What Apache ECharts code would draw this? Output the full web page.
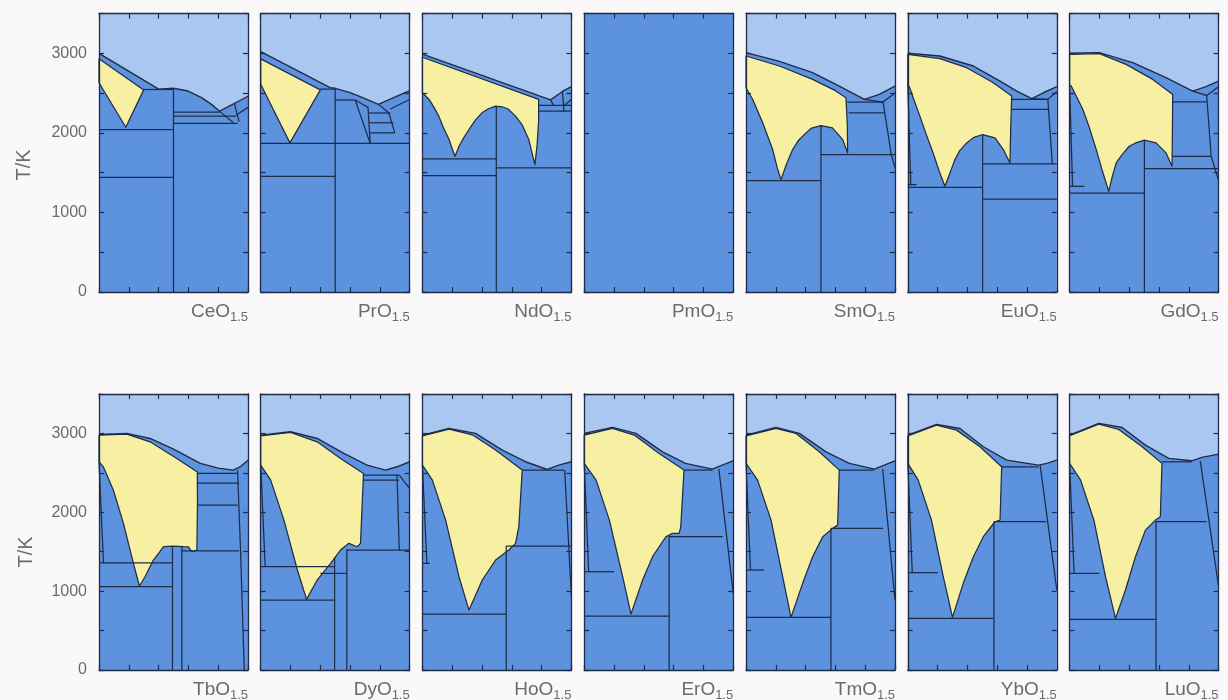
<!DOCTYPE html>
<html>
<head>
<meta charset="utf-8">
<script src="https://cdn.jsdelivr.net/npm/echarts@6/dist/echarts.min.js"></script>
<style>
  html, body { margin: 0; padding: 0; background: #fbf8f9; }
  #chart { width: 1228px; height: 700px; }
</style>
</head>
<body>
<div id="chart"></div>
<script>
// ZrO2 – LnO1.5 phase diagrams: composition (mole fraction LnO1.5) vs temperature (K)
const compounds = ['CeO', 'PrO', 'NdO', 'PmO', 'SmO', 'EuO', 'GdO',
                   'TbO', 'DyO', 'HoO', 'ErO', 'TmO', 'YbO', 'LuO'];
const formulaSubscript = '1.5';
const tempTicks = [0, 1000, 2000, 3000];
const tempMax = 3500;
const tempStep = 500;
const compStep = 0.2;

// --- CeO1.5 ---
const ceLiquidus = [[0,3000],[0.40,2550],[0.5,2560],[0.598,2526],[0.688,2442],[0.755,2358],[0.81,2272],[0.90,2360],[1,2460]];
const ceFluorite = [[0,2930],[0.30,2540],[0.18,2070],[0,2630]];
const ceLines = [
  [[0.30,2545],[0.5,2545]], [[0.5,0],[0.5,2560]],
  [[0,2042],[0.5,2042]], [[0,1441],[0.5,1441]],
  [[0.5,2261],[0.81,2261]], [[0.5,2211],[0.92,2211]], [[0.5,2118],[0.93,2118]],
  [[0.81,2270],[0.90,2130]], [[0.91,2360],[0.94,2140]], [[0.92,2220],[1,2320]]
];
// --- PrO1.5 ---
const prLiquidus = [[0,3020],[0.466,2568],[0.5,2560],[0.60,2505],[0.70,2430],[0.79,2358],[0.90,2450],[1,2530]];
const prFluorite = [[0,2930],[0.40,2540],[0.196,1874],[0,2610]];
const prLines = [
  [[0.40,2550],[0.5,2550]], [[0.5,0],[0.5,2560]],
  [[0,1868],[1,1868]], [[0,1454],[0.5,1454]],
  [[0.5,2413],[0.634,2413]], [[0.634,2413],[0.735,1868]], [[0.634,2413],[0.72,2320],[0.735,1868]],
  [[0.72,2250],[0.87,2250]], [[0.73,2127],[0.89,2127]], [[0.73,2000],[0.90,2000]],
  [[0.79,2358],[0.86,2250],[0.90,2000]], [[0.87,2300],[1,2420]]
];
// --- NdO1.5 ---
const ndLiquidus = [[0,2990],[0.86,2415],[0.94,2520],[1,2580]];
const ndFluorite = [[0,2950],[0.78,2420],[0.78,2150],[0.77,1850],[0.755,1600],[0.714,1916],[0.67,2100],
  [0.625,2210],[0.575,2300],[0.536,2328],[0.49,2336],[0.44,2300],[0.40,2252],[0.355,2160],[0.3125,2042],
  [0.275,1930],[0.246,1832],[0.219,1706],[0.20,1800],[0.179,1916],[0.14,2070],[0.11,2210],[0.075,2330],
  [0.045,2420],[0,2504]];
const ndLines = [
  [[0.496,0],[0.496,2336]], [[0,1672],[0.496,1672]], [[0,1462],[0.496,1462]], [[0.496,1559],[1,1559]],
  [[0.78,2345],[1,2345]], [[0.78,2273],[1,2273]], [[0.86,2415],[0.88,2345]],
  [[0.94,2520],[0.95,2273]], [[0.95,2345],[1,2420]]
];
// --- PmO1.5 (no assessed data) ---
const pmLiquidus = [];
const pmFluorite = [];
const pmLines = [];
// --- SmO1.5 ---
const smLiquidus = [[0,3008],[0.224,2899],[0.447,2756],[0.626,2588],[0.794,2420],[0.895,2483],[1,2588]];
const smFluorite = [[0,2966],[0.224,2840],[0.447,2672],[0.60,2530],[0.671,2440],[0.68,2100],[0.682,1748],
  [0.649,1916],[0.58,2063],[0.503,2092],[0.44,2060],[0.403,2000],[0.35,1900],[0.313,1790],[0.27,1600],
  [0.235,1412],[0.21,1560],[0.179,1790],[0.112,2126],[0.045,2420],[0,2567]];
const smLines = [
  [[0.503,0],[0.503,2092]], [[0,1399],[0.503,1399]], [[0.503,1727],[1,1727]],
  [[0.68,2387],[0.92,2387]], [[0.69,2252],[0.93,2252]], [[0.794,2420],[0.92,2387]],
  [[0.92,2387],[1,2500]], [[0.92,2387],[0.975,1727],[1,1560]]
];
// --- EuO1.5 ---
const euLiquidus = [[0,3000],[0.215,2966],[0.44,2840],[0.619,2651],[0.731,2525],[0.832,2429],[0.91,2504],[1,2580]];
const euFluorite = [[0,2987],[0.215,2933],[0.395,2819],[0.574,2630],[0.697,2462],[0.69,2000],[0.686,1622],
  [0.641,1790],[0.585,1937],[0.502,1979],[0.44,1940],[0.395,1874],[0.35,1780],[0.316,1664],[0.28,1480],
  [0.249,1328],[0.21,1520],[0.17,1748],[0.12,2000],[0.081,2210],[0.04,2420],[0.013,2567],[0,2600]];
const euLines = [
  [[0.502,0],[0.502,1979]], [[0,1315],[0.502,1315]], [[0,1349],[0.06,1349]],
  [[0.502,1609],[1,1609]], [[0.502,1168],[1,1168]],
  [[0.697,2420],[0.94,2420]], [[0.70,2294],[0.95,2294]],
  [[0.832,2429],[0.94,2420],[1,2520]], [[0.94,2420],[0.97,1609]], [[0,2600],[0.02,1349]]
];
// --- GdO1.5 ---
const gdLiquidus = [[0,3000],[0.2,3008],[0.424,2882],[0.647,2693],[0.826,2525],[0.915,2580],[1,2651]];
const gdFluorite = [[0,2987],[0.2,2996],[0.379,2861],[0.558,2672],[0.692,2483],[0.69,2000],[0.6875,1580],
  [0.647,1748],[0.58,1874],[0.502,1908],[0.44,1870],[0.40,1832],[0.35,1720],[0.3125,1622],[0.285,1440],
  [0.263,1265],[0.22,1520],[0.179,1790],[0.13,2080],[0.089,2294],[0.04,2480],[0.011,2588],[0,2600]];
const gdLines = [
  [[0.502,0],[0.502,1908]], [[0,1244],[0.502,1244]], [[0,1328],[0.1,1328]],
  [[0.502,1551],[1,1551]], [[0.69,1706],[0.95,1706]], [[0.692,2390],[0.92,2390]],
  [[0.826,2525],[0.92,2470],[1,2580]], [[0.92,2470],[0.95,1706],[1,1400]], [[0,2600],[0.02,1328]]
];
// --- TbO1.5 ---
const tbLiquidus = [[0,2987],[0.186,3000],[0.343,2936],[0.50,2800],[0.68,2620],[0.80,2560],[0.90,2535],[0.95,2580],[1,2660]];
const tbFluorite = [[0,2979],[0.186,2991],[0.343,2894],[0.522,2683],[0.66,2510],[0.661,2113],[0.657,1520],
  [0.623,1500],[0.60,1560],[0.567,1563],[0.50,1572],[0.433,1563],[0.40,1480],[0.365,1394],[0.309,1183],
  [0.271,1065],[0.231,1352],[0.164,1859],[0.096,2282],[0.029,2577],[0,2641]];
const tbLines = [
  [[0.493,0],[0.493,1570]], [[0.556,0],[0.556,1565]], [[0,1056],[0.493,1056]], [[0,1360],[0.493,1360]],
  [[0.556,1510],[0.94,1510]], [[0.66,2493],[0.93,2493]], [[0.66,2370],[0.94,2370]], [[0.66,2091],[0.93,2091]],
  [[0.93,2535],[0.95,1510],[0.975,0]], [[0,2641],[0.03,1360]]
];
// --- DyO1.5 ---
const dyLiquidus = [[0,2979],[0.2,3021],[0.379,2936],[0.558,2746],[0.714,2598],[0.837,2535],[0.915,2577],[1,2641]];
const dyFluorite = [[0,2970],[0.2,3012],[0.379,2894],[0.536,2683],[0.69,2493],[0.68,2050],[0.67,1606],
  [0.647,1563],[0.592,1606],[0.536,1521],[0.469,1352],[0.379,1141],[0.308,896],[0.246,1268],[0.156,1901],
  [0.067,2408],[0,2598]];
const dyLines = [
  [[0,887],[0.496,887]], [[0.496,0],[0.496,1430]], [[0.578,0],[0.578,1530]], [[0,1310],[0.496,1310]],
  [[0.40,1225],[0.578,1225]], [[0.578,1520],[1,1520]], [[0.69,2471],[0.93,2471]], [[0.69,2408],[0.93,2408]],
  [[0.915,2471],[0.93,1520]], [[0.93,2471],[1,2300]], [[0,2598],[0.03,1310]]
];
// --- HoO1.5 ---
const hoLiquidus = [[0,2979],[0.179,3063],[0.357,3000],[0.536,2789],[0.692,2641],[0.837,2543],[0.915,2598],[1,2641]];
const hoFluorite = [[0,2970],[0.179,3055],[0.335,2983],[0.491,2789],[0.67,2535],[0.647,1816],[0.625,1606],
  [0.58,1521],[0.491,1394],[0.402,1141],[0.3125,760],[0.2455,1183],[0.156,1901],[0.067,2408],[0,2598]];
const hoLines = [
  [[0,710],[0.5625,710]], [[0.5625,0],[0.5625,1572]], [[0.5625,1572],[1,1572]], [[0,1352],[0.05,1352]],
  [[0.67,2535],[0.95,2535]], [[0.955,2535],[1,930]], [[0,2598],[0.03,1352]]
];
// --- ErO1.5 ---
const erLiquidus = [[0,3000],[0.19,3076],[0.347,3000],[0.526,2767],[0.68,2620],[0.86,2548],[0.926,2598],[1,2653]];
const erFluorite = [[0,2979],[0.19,3063],[0.336,2979],[0.503,2746],[0.67,2535],[0.648,1816],[0.637,1732],
  [0.592,1732],[0.548,1690],[0.459,1437],[0.392,1141],[0.314,709],[0.258,1183],[0.169,1901],[0.08,2408],[0,2620]];
const erLines = [
  [[0,684],[0.57,684]], [[0.57,0],[0.57,1700]], [[0.57,1690],[0.93,1690]], [[0,1246],[0.2,1246]],
  [[0.67,2535],[0.86,2535]], [[0.904,2548],[1,972]], [[0,2620],[0.03,1246]]
];
// --- TmO1.5 ---
const tmLiquidus = [[0,2979],[0.201,3076],[0.358,3000],[0.537,2767],[0.694,2620],[0.861,2548],[0.928,2598],[1,2653]];
const tmFluorite = [[0,2970],[0.201,3063],[0.336,3000],[0.492,2767],[0.626,2535],[0.615,1837],[0.582,1796],
  [0.515,1690],[0.447,1437],[0.38,1099],[0.302,667],[0.246,1183],[0.168,1901],[0.078,2408],[0,2620]];
const tmLines = [
  [[0,667],[0.57,667]], [[0.57,0],[0.57,1796]], [[0.57,1796],[0.92,1796]], [[0,1268],[0.12,1268]],
  [[0.626,2535],[0.86,2535]], [[0.917,2548],[1,887]], [[0,2620],[0.03,1268]]
];
// --- YbO1.5 ---
const ybLiquidus = [[0,2979],[0.193,3114],[0.35,3063],[0.507,2831],[0.664,2662],[0.877,2598],[0.933,2620],[1,2662]];
const ybFluorite = [[0,2970],[0.193,3106],[0.327,3042],[0.484,2831],[0.63,2577],[0.619,1901],[0.585,1880],
  [0.507,1690],[0.44,1437],[0.372,1099],[0.30,667],[0.238,1183],[0.159,1901],[0.07,2408],[0,2620]];
const ybLines = [
  [[0,655],[0.578,655]], [[0.578,0],[0.578,1880]], [[0.578,1880],[0.93,1880]], [[0,1234],[0.2,1234]],
  [[0.63,2577],[0.877,2577]], [[0.888,2598],[1,1014]], [[0,2620],[0.03,1234]]
];
// --- LuO1.5 ---
const luLiquidus = [[0,2979],[0.196,3127],[0.353,3076],[0.509,2852],[0.665,2683],[0.821,2653],[0.888,2696],[1,2738]];
const luFluorite = [[0,2970],[0.196,3118],[0.33,3050],[0.487,2831],[0.62,2620],[0.609,1943],[0.576,1901],
  [0.509,1774],[0.442,1437],[0.375,1014],[0.308,655],[0.241,1183],[0.163,1901],[0.074,2408],[0,2620]];
const luLines = [
  [[0,642],[0.58,642]], [[0.58,0],[0.58,1890]], [[0.58,1880],[0.92,1880]], [[0,1225],[0.2,1225]],
  [[0.62,2640],[0.82,2640]], [[0.877,2653],[1,1056]], [[0,2620],[0.03,1225]]
];

const liquidusSets = [ceLiquidus, prLiquidus, ndLiquidus, pmLiquidus, smLiquidus, euLiquidus, gdLiquidus,
                      tbLiquidus, dyLiquidus, hoLiquidus, erLiquidus, tmLiquidus, ybLiquidus, luLiquidus];
const fluoriteSets = [ceFluorite, prFluorite, ndFluorite, pmFluorite, smFluorite, euFluorite, gdFluorite,
                      tbFluorite, dyFluorite, hoFluorite, erFluorite, tmFluorite, ybFluorite, luFluorite];
const lineSets = [ceLines, prLines, ndLines, pmLines, smLines, euLines, gdLines,
                  tbLines, dyLines, hoLines, erLines, tmLines, ybLines, luLines];

// ---- layout & style ----
const panelLefts = [99, 260.7, 422.4, 584.2, 746, 907.8, 1069.6];
const panelWidth = 149;
const rows = [{ top: 13.5, height: 278.5, labelY: 312 }, { top: 394, height: 276, labelY: 690 }];
const C_LIQ = '#a9c7f0';
const C_SOLID = '#5d93de';
const C_FCC = '#f7f0a3';
const C_LINE = '#1f2c48';
const C_TEXT = '#6b6b6b';
const FONT = '"Liberation Sans", Arial, sans-serif';
const LW = 1.25;

function makeRender(idx) {
  const liq = liquidusSets[idx], fcc = fluoriteSets[idx], lines = lineSets[idx];
  return function (params, api) {
    const c = p => api.coord(p);
    const children = [];
    if (liq.length) {
      const pts = liq.map(c).concat([c([1, tempMax]), c([0, tempMax])]);
      children.push({ type: 'polygon', shape: { points: pts }, style: { fill: C_LIQ, stroke: null } });
    }
    if (fcc.length) {
      children.push({ type: 'polygon', shape: { points: fcc.map(c) },
        style: { fill: C_FCC, stroke: C_LINE, lineWidth: LW, lineJoin: 'round' } });
    }
    lines.forEach(l => children.push({ type: 'polyline', shape: { points: l.map(c) },
      style: { fill: null, stroke: C_LINE, lineWidth: LW } }));
    if (liq.length) {
      children.push({ type: 'polyline', shape: { points: liq.map(c) },
        style: { fill: null, stroke: C_LINE, lineWidth: 1.4, lineJoin: 'round' } });
    }
    return { type: 'group', children };
  };
}

const grid = [], xAxis = [], yAxis = [], series = [], graphic = [];
compounds.forEach((name, i) => {
  const row = rows[Math.floor(i / 7)];
  const col = i % 7;
  grid.push({ left: panelLefts[col], top: row.top, width: panelWidth, height: row.height,
              show: true, backgroundColor: C_SOLID, borderWidth: 0 });
  const tickStyle = { show: true, inside: true, length: 5, lineStyle: { color: C_LINE, width: 1.2 } };
  const lineStyle = { show: true, onZero: false, lineStyle: { color: C_LINE, width: 1.3 } };
  ['bottom', 'top'].forEach(pos => xAxis.push({
    gridIndex: i, type: 'value', min: 0, max: 1, interval: compStep, position: pos, z: 6,
    axisLine: lineStyle, axisTick: tickStyle, axisLabel: { show: false }, splitLine: { show: false }
  }));
  ['left', 'right'].forEach(pos => yAxis.push({
    gridIndex: i, type: 'value', min: 0, max: tempMax, interval: tempStep, position: pos, z: 6,
    axisLine: lineStyle, axisTick: tickStyle, splitLine: { show: false },
    axisLabel: {
      show: pos === 'left' && col === 0, margin: 12, color: C_TEXT, fontSize: 16, fontFamily: FONT,
      formatter: v => (tempTicks.indexOf(v) >= 0 ? String(v) : '')
    }
  }));
  series.push({ type: 'custom', xAxisIndex: 2 * i, yAxisIndex: 2 * i, data: [[0, 0]],
                renderItem: makeRender(i), silent: true, z: 2 });

  const right = panelLefts[col] + panelWidth;
  graphic.push({ type: 'text', x: right, y: row.labelY + 5, silent: true,
    style: { text: formulaSubscript, align: 'right', verticalAlign: 'middle',
             fontSize: 13, fontFamily: FONT, fill: C_TEXT } });
  graphic.push({ type: 'text', x: right - 18, y: row.labelY, silent: true,
    style: { text: name, align: 'right', verticalAlign: 'middle',
             fontSize: 19, fontFamily: FONT, fill: C_TEXT } });
});
graphic.push({ type: 'text', x: 24, y: 165, rotation: Math.PI / 2, silent: true,
  style: { text: 'T/K', align: 'center', verticalAlign: 'middle', fontSize: 20, fontFamily: FONT, fill: C_TEXT } });
graphic.push({ type: 'text', x: 26, y: 552, rotation: Math.PI / 2, silent: true,
  style: { text: 'T/K', align: 'center', verticalAlign: 'middle', fontSize: 20, fontFamily: FONT, fill: C_TEXT } });

const chart = echarts.init(document.getElementById('chart'), null, { renderer: 'canvas' });
chart.setOption({ backgroundColor: '#fbf8f9', animation: false, grid, xAxis, yAxis, series, graphic });
</script>
</body>
</html>
